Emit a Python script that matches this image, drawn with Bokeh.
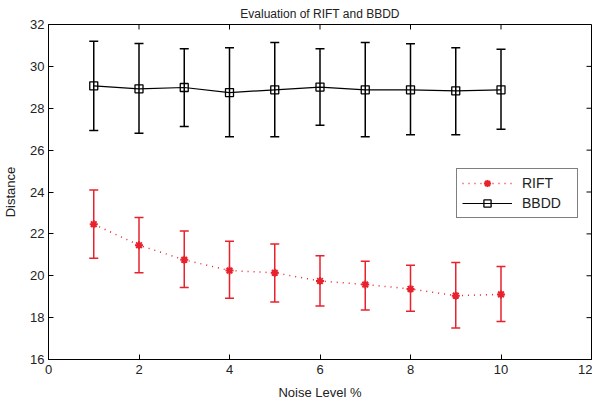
from bokeh.plotting import figure
from bokeh.models import (ColumnDataSource, Whisker, TeeHead, Legend, LegendItem,
                          FixedTicker, Range1d)
from bokeh.embed import file_html
from bokeh.resources import INLINE

noise = [1, 2, 3, 4, 5, 6, 7, 8, 9, 10]
rift_mean = [22.46, 21.46, 20.76, 20.25, 20.14, 19.75, 19.58, 19.37, 19.05, 19.11]
rift_upper = [24.10, 22.78, 22.14, 21.65, 21.52, 20.95, 20.69, 20.50, 20.63, 20.44]
rift_lower = [20.83, 20.14, 19.44, 18.93, 18.75, 18.56, 18.37, 18.30, 17.50, 17.82]
bbdd_mean = [29.07, 28.93, 28.99, 28.75, 28.88, 29.01, 28.88, 28.88, 28.83, 28.88]
bbdd_upper = [31.20, 31.09, 30.84, 30.89, 31.14, 30.84, 31.14, 31.08, 30.89, 30.82]
bbdd_lower = [26.94, 26.81, 27.13, 26.64, 26.64, 27.19, 26.64, 26.73, 26.73, 27.00]

x_ticks = [0, 2, 4, 6, 8, 10, 12]
y_ticks = [16, 18, 20, 22, 24, 26, 28, 30, 32]
x_min, x_max = 0, 12
y_min, y_max = 16, 32

RED = "#e8222c"
FONT = "Liberation Sans"
TXT = "#222222"
FW, FH = 543, 335
TICK = 5

p = figure(frame_width=FW, frame_height=FH, output_backend="svg", toolbar_location=None,
           x_range=Range1d(x_min, x_max), y_range=Range1d(y_min, y_max),
           min_border_left=41, min_border_right=1, min_border_top=23, min_border_bottom=2)
p.title.text = "Evaluation of RIFT and BBDD"
p.title.align = "center"
p.title.text_font = FONT
p.title.text_font_size = "12px"
p.title.text_font_style = "normal"
p.title.text_color = TXT
p.title.standoff = 8
p.grid.visible = False
p.outline_line_color = "black"
p.outline_line_width = 1
p.background_fill_color = "white"
p.border_fill_color = "white"

for ax in (p.xaxis[0], p.yaxis[0]):
    ax.major_tick_in = TICK
    ax.major_tick_out = 0
    ax.minor_tick_in = 0
    ax.minor_tick_out = 0
    ax.axis_line_color = "black"
    ax.major_tick_line_color = "black"
    ax.major_label_text_font = FONT
    ax.major_label_text_font_size = "13px"
    ax.major_label_text_color = TXT
    ax.axis_label_text_font = FONT
    ax.axis_label_text_font_size = "13px"
    ax.axis_label_text_font_style = "normal"
    ax.axis_label_text_color = TXT
p.xaxis[0].ticker = FixedTicker(ticks=x_ticks)
p.yaxis[0].ticker = FixedTicker(ticks=y_ticks)
p.xaxis[0].axis_label = "Noise Level %"
p.yaxis[0].axis_label = "Distance"
p.xaxis[0].major_label_standoff = 5
p.xaxis[0].axis_label_standoff = 8
p.yaxis[0].major_label_standoff = 4
p.yaxis[0].axis_label_standoff = 9

# box ticks on the top and right edges (MATLAB "box on"), length derived from scales
dx = TICK * (x_max - x_min) / FW
dy = TICK * (y_max - y_min) / FH
p.segment(x0=[x_max] * len(y_ticks), x1=[x_max - dx] * len(y_ticks), y0=y_ticks, y1=y_ticks,
          line_color="black", line_width=1)
p.segment(x0=x_ticks, x1=x_ticks, y0=[y_max] * len(x_ticks), y1=[y_max - dy] * len(x_ticks),
          line_color="black", line_width=1)

rsrc = ColumnDataSource(dict(x=noise, y=rift_mean, up=rift_upper, lo=rift_lower))
bsrc = ColumnDataSource(dict(x=noise, y=bbdd_mean, up=bbdd_upper, lo=bbdd_lower))

for src, col in ((rsrc, RED), (bsrc, "black")):
    w = Whisker(source=src, base="x", upper="up", lower="lo",
                line_color=col, line_width=1.5,
                upper_head=TeeHead(size=9, line_color=col, line_width=1.5),
                lower_head=TeeHead(size=9, line_color=col, line_width=1.5))
    p.add_layout(w)

r_line = p.line("x", "y", source=rsrc, line_color=RED, line_width=1.5, line_dash="1 5")
r_mark = p.scatter("x", "y", source=rsrc, marker="asterisk", size=8, line_color=RED, line_width=2)
b_line = p.line("x", "y", source=bsrc, line_color="black", line_width=1.2)
b_mark = p.scatter("x", "y", source=bsrc, marker="square", size=8, line_color="black",
                   fill_color=None, line_width=1.3)

legend = Legend(items=[LegendItem(label="RIFT", renderers=[r_line, r_mark]),
                       LegendItem(label="BBDD", renderers=[b_line, b_mark])],
                location=(408, 141), border_line_color="black", border_line_width=1,
                background_fill_color="white", background_fill_alpha=1,
                label_text_font=FONT, label_text_font_size="14px", label_text_color=TXT,
                glyph_width=50, glyph_height=18, label_standoff=10, label_width=50,
                label_height=18, spacing=2, padding=5, margin=0)
p.add_layout(legend)

open("out.html", "w").write(file_html(p, INLINE))
